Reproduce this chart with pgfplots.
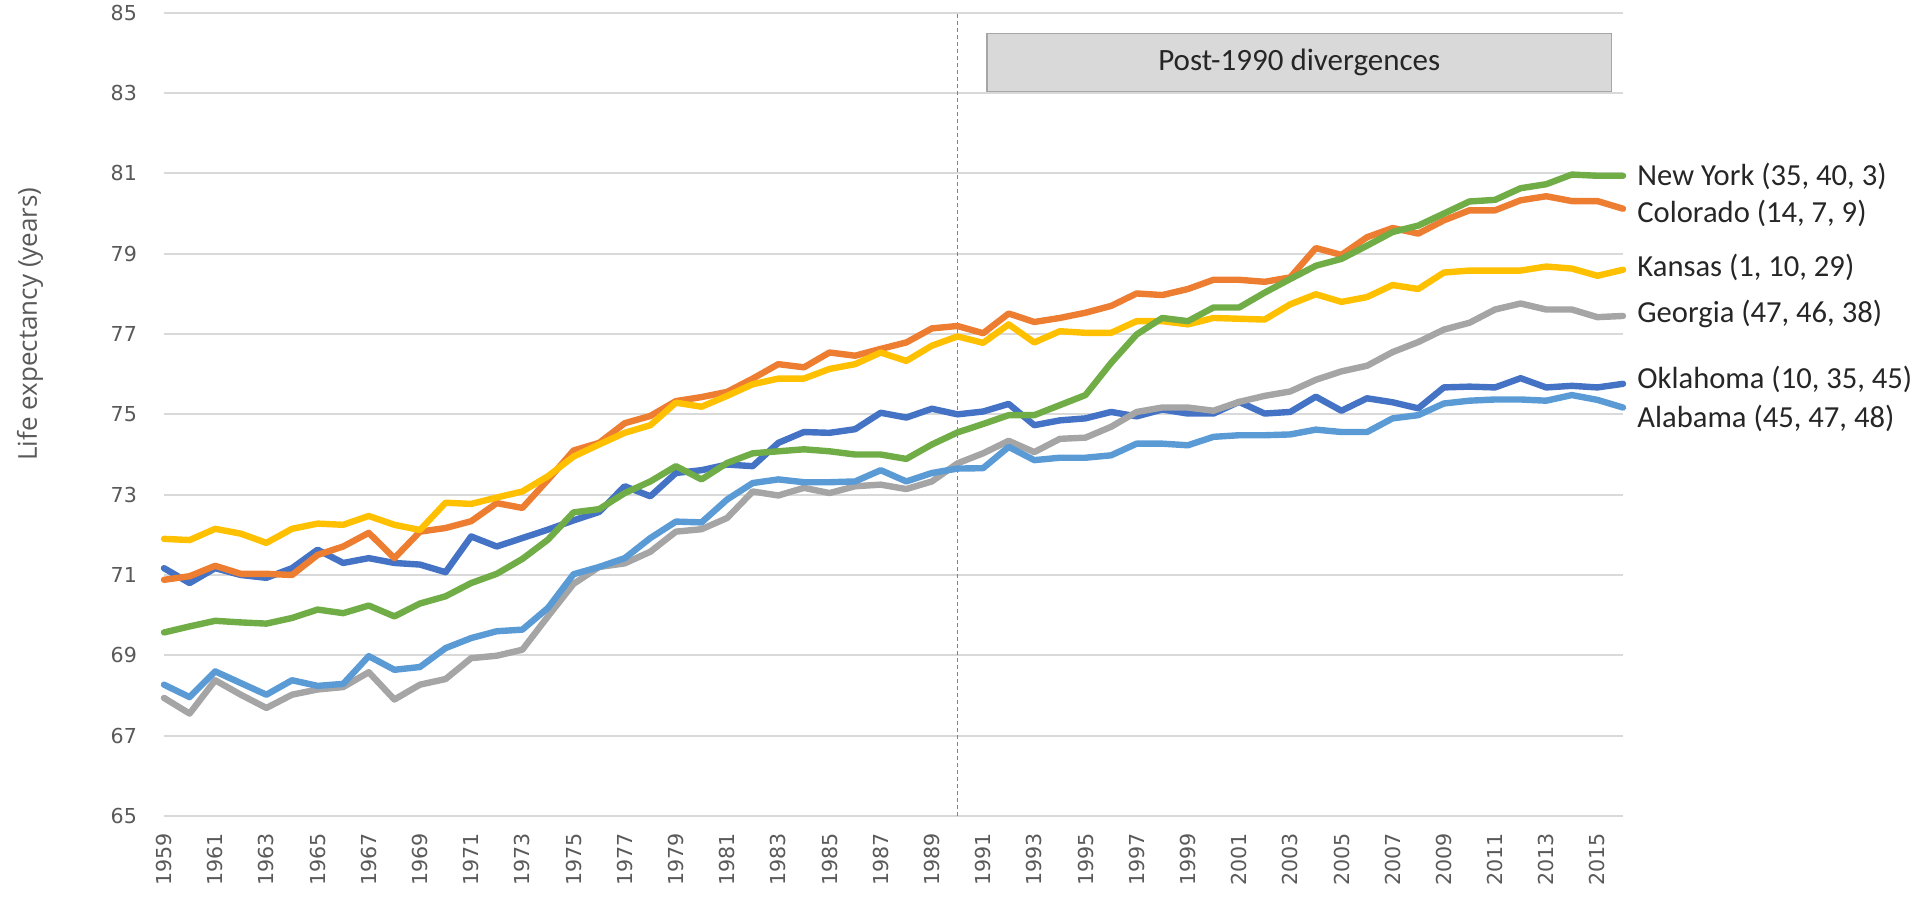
\documentclass[border=0pt]{standalone}
\usepackage{fontspec}
\setmainfont{Carlito}
\newfontfamily\tickfont{DejaVu Sans}
\newfontfamily\titlefont{Open Sans}
\usepackage{pgfplots}
\pgfplotsset{compat=1.18}
\usepackage{pgfplotstable}
\definecolor{cOK}{HTML}{4472C4}
\definecolor{cCO}{HTML}{ED7D31}
\definecolor{cGA}{HTML}{A5A5A5}
\definecolor{cKS}{HTML}{FFC000}
\definecolor{cAL}{HTML}{5B9BD5}
\definecolor{cNY}{HTML}{70AD47}
\definecolor{gridc}{HTML}{D9D9D9}
\definecolor{tickc}{HTML}{595959}
\definecolor{boxc}{HTML}{D9D9D9}
\definecolor{boxd}{HTML}{A6A6A6}
\definecolor{txtc}{HTML}{262626}

\pgfplotstableread{
year OK CO GA KS AL NY
1959 71.17 70.88 67.94 71.90 68.27 69.57
1960 70.80 70.97 67.55 71.87 67.96 69.72
1961 71.17 71.23 68.38 72.15 68.60 69.86
1962 71.00 71.03 68.02 72.03 68.31 69.82
1963 70.93 71.03 67.69 71.80 68.02 69.79
1964 71.17 71.00 68.02 72.15 68.38 69.93
1965 71.63 71.50 68.15 72.28 68.24 70.14
1966 71.30 71.71 68.21 72.25 68.29 70.05
1967 71.42 72.05 68.58 72.47 68.98 70.24
1968 71.30 71.42 67.90 72.25 68.64 69.97
1969 71.26 72.08 68.27 72.12 68.71 70.29
1970 71.07 72.17 68.41 72.80 69.18 70.47
1971 71.96 72.34 68.93 72.77 69.43 70.80
1972 71.71 72.79 68.99 72.93 69.60 71.03
1973 71.92 72.67 69.14 73.08 69.64 71.40
1974 72.13 73.37 69.97 73.46 70.18 71.88
1975 72.36 74.10 70.78 73.95 71.02 72.56
1976 72.57 74.29 71.20 74.25 71.20 72.64
1977 73.21 74.78 71.29 74.54 71.42 73.04
1978 72.96 74.96 71.58 74.73 71.92 73.33
1979 73.54 75.33 72.08 75.29 72.33 73.71
1980 73.61 75.43 72.14 75.19 72.31 73.38
1981 73.75 75.56 72.42 75.46 72.88 73.79
1982 73.71 75.89 73.08 75.75 73.29 74.03
1983 74.29 76.25 72.98 75.89 73.38 74.08
1984 74.56 76.17 73.17 75.89 73.31 74.13
1985 74.54 76.54 73.04 76.13 73.31 74.08
1986 74.63 76.46 73.21 76.25 73.33 74.00
1987 75.04 76.63 73.25 76.54 73.61 74.00
1988 74.92 76.79 73.14 76.33 73.33 73.89
1989 75.14 77.14 73.33 76.71 73.54 74.25
1990 75.00 77.20 73.78 76.94 73.65 74.55
1991 75.07 77.02 74.03 76.78 73.66 74.76
1992 75.26 77.51 74.34 77.24 74.19 74.98
1993 74.73 77.30 74.06 76.79 73.86 74.98
1994 74.85 77.40 74.39 77.07 73.92 75.23
1995 74.90 77.53 74.42 77.03 73.92 75.48
1996 75.06 77.70 74.69 77.03 73.98 76.28
1997 74.95 78.01 75.06 77.32 74.27 76.99
1998 75.12 77.97 75.17 77.32 74.27 77.40
1999 75.02 78.12 75.17 77.24 74.23 77.32
2000 75.02 78.35 75.09 77.40 74.44 77.66
2001 75.31 78.35 75.31 77.38 74.48 77.66
2002 75.02 78.30 75.46 77.36 74.48 78.03
2003 75.06 78.41 75.57 77.74 74.50 78.37
2004 75.44 79.14 75.86 77.99 74.62 78.70
2005 75.09 78.97 76.07 77.80 74.56 78.87
2006 75.40 79.41 76.21 77.92 74.56 79.20
2007 75.30 79.64 76.55 78.22 74.90 79.54
2008 75.15 79.50 76.80 78.12 74.98 79.70
2009 75.67 79.83 77.11 78.53 75.27 80.00
2010 75.69 80.08 77.28 78.58 75.34 80.30
2011 75.67 80.08 77.61 78.58 75.37 80.34
2012 75.90 80.33 77.76 78.58 75.37 80.63
2013 75.67 80.43 77.61 78.68 75.34 80.73
2014 75.71 80.31 77.61 78.63 75.48 80.97
2015 75.67 80.31 77.42 78.45 75.36 80.94
2016 75.76 80.12 77.45 78.60 75.17 80.94
}\lifedata

\begin{document}
\begin{tikzpicture}[x=1pt,y=1pt]
\useasboundingbox (0,0) rectangle (960,453);
\node[rotate=90, font=\titlefont\fontsize{13}{15}\selectfont, text=tickc] at (15,291) {Life expectancy (years)};
\begin{axis}[
  at={(82pt,45pt)}, anchor=south west,
  scale only axis, width=729.5pt, height=401.65pt,
  xmin=1959, xmax=2016, ymin=65, ymax=85,
  xtick={1959,1961,...,2015}, ytick={65,67,...,85},
  ymajorgrids, grid style={gridc, line width=1.1pt},
  axis line style={draw=none},
  major tick style={draw=none},
  tick label style={font=\tickfont\fontsize{10.3}{12}\selectfont, text=tickc},
  /pgf/number format/assume math mode=true,
  /pgf/number format/1000 sep={},
  xticklabel style={yshift=-5pt, rotate=90, anchor=east},
  yticklabel style={xshift=-10pt},
  clip=false,
  every axis plot/.append style={line width=3.2pt, line join=round, line cap=round, no markers},
]
\draw[tickc!75, dash pattern=on 2pt off 1.5pt, line width=0.6pt] (axis cs:1990,65) -- (axis cs:1990,85);
\addplot[cOK] table[x=year, y=OK] {\lifedata};
\addplot[cCO] table[x=year, y=CO] {\lifedata};
\addplot[cGA] table[x=year, y=GA] {\lifedata};
\addplot[cKS] table[x=year, y=KS] {\lifedata};
\addplot[cAL] table[x=year, y=AL] {\lifedata};
\addplot[cNY] table[x=year, y=NY] {\lifedata};
\draw[fill=boxc, draw=boxd, line width=0.6pt] (axis cs:1991.15,83.03) rectangle (axis cs:2015.56,84.49);
\node[font=\fontsize{15.5}{18}\selectfont, text=txtc] at (axis cs:2003.35,83.76) {Post-1990 divergences};
\begin{scope}[every node/.style={anchor=west, xshift=7pt, font=\fontsize{15.3}{18}\selectfont, text=txtc, inner sep=0pt}]
\node at (axis cs:2016,80.92) {New York (35, 40, 3)};
\node at (axis cs:2016,80.00) {Colorado (14, 7, 9)};
\node at (axis cs:2016,78.66) {Kansas (1, 10, 29)};
\node at (axis cs:2016,77.49) {Georgia (47, 46, 38)};
\node at (axis cs:2016,75.86) {Oklahoma (10, 35, 45)};
\node at (axis cs:2016,74.90) {Alabama (45, 47, 48)};
\end{scope}
\end{axis}
\end{tikzpicture}
\end{document}
